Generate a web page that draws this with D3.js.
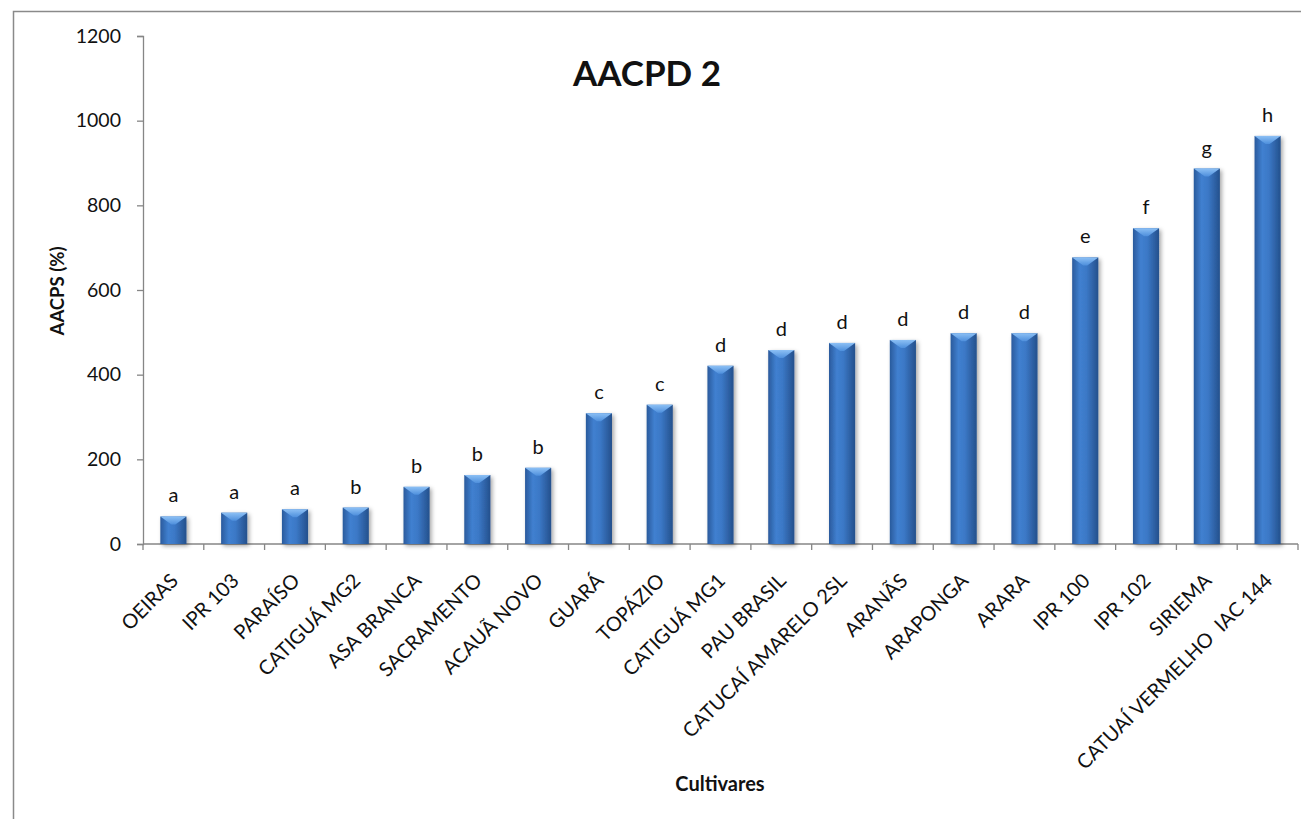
<!DOCTYPE html>
<html>
<head>
<meta charset="utf-8">
<script src="https://cdn.jsdelivr.net/npm/d3@7"></script>
<style>
  html, body { margin: 0; padding: 0; background: #fff; }
  svg { display: block; font-family: Lato, "Open Sans", sans-serif; }
</style>
</head>
<body>
<svg id="chart" width="1301" height="819"></svg>
<script>
// Cultivars and their AACPS values, with the letter groups printed over each bar
const cultivars = ["OEIRAS", "IPR 103", "PARAÍSO", "CATIGUÁ MG2", "ASA BRANCA", "SACRAMENTO",
  "ACAUÃ NOVO", "GUARÁ", "TOPÁZIO", "CATIGUÁ MG1", "PAU BRASIL", "CATUCAÍ AMARELO 2SL",
  "ARANÃS", "ARAPONGA", "ARARA", "IPR 100", "IPR 102", "SIRIEMA", "CATUAÍ VERMELHO  IAC 144"];
const aacps = [65, 74, 82, 86, 135, 163, 180, 309, 329, 421, 458, 475, 482, 498, 498, 677, 746, 887, 964];
const groups = ["a", "a", "a", "b", "b", "b", "b", "c", "c", "d", "d", "d", "d", "d", "d", "e", "f", "g", "h"];
const yTicks = [0, 200, 400, 600, 800, 1000, 1200];

const svg = d3.select("#chart");
const plot = { left: 143, right: 1298, top: 36, bottom: 544 };

// Outer frame of the chart area
svg.append("rect")
  .attr("x", 13.5).attr("y", 11.5)
  .attr("width", 1400).attr("height", 900)
  .attr("fill", "none").attr("stroke", "#8a8a8a").attr("stroke-width", 1.5);

const x = d3.scaleBand().domain(cultivars).range([plot.left, plot.right]).paddingInner(0.57).paddingOuter(0.285);
const xTickScale = d3.scaleBand().domain(cultivars).range([plot.left, plot.right]);
const y = d3.scaleLinear().domain([0, 1200]).range([plot.bottom, plot.top]);

const defs = svg.append("defs");
const body = defs.append("linearGradient").attr("id", "barBody").attr("x1", 0).attr("x2", 1).attr("y1", 0).attr("y2", 0);
body.append("stop").attr("offset", "0%").attr("stop-color", "#2a5a9c");
body.append("stop").attr("offset", "30%").attr("stop-color", "#4080d0");
body.append("stop").attr("offset", "55%").attr("stop-color", "#3b78c6");
body.append("stop").attr("offset", "100%").attr("stop-color", "#24508c");

const bevel = defs.append("linearGradient").attr("id", "barBevel").attr("x1", 0).attr("x2", 0).attr("y1", 0).attr("y2", 1);
bevel.append("stop").attr("offset", "0%").attr("stop-color", "#8cc0f5");
bevel.append("stop").attr("offset", "100%").attr("stop-color", "#4e8fdc");

const shadow = defs.append("filter").attr("id", "barShadow").attr("x", "-30%").attr("y", "-10%").attr("width", "170%").attr("height", "130%");
shadow.append("feDropShadow").attr("dx", 2).attr("dy", 2).attr("stdDeviation", 2)
  .attr("flood-color", "#000").attr("flood-opacity", 0.35);

// Axes
const yAxis = svg.append("g").attr("transform", `translate(${plot.left},0)`)
  .call(d3.axisLeft(y).tickValues(yTicks).tickSize(6).tickPadding(16).tickFormat(d3.format("d")));
yAxis.select(".domain").attr("stroke", "#868686").attr("stroke-width", 1.3);
yAxis.selectAll(".tick line").attr("stroke", "#868686").attr("stroke-width", 1.3);
yAxis.selectAll(".tick text").attr("font-size", 19.5).attr("fill", "#111").attr("font-family", "Lato, sans-serif");

const xAxis = svg.append("g").attr("transform", `translate(0,${plot.bottom})`);
xAxis.append("line").attr("x1", plot.left).attr("x2", plot.right).attr("y1", 0).attr("y2", 0)
  .attr("stroke", "#868686").attr("stroke-width", 1.3);
const tickPositions = cultivars.map(c => xTickScale(c)).concat([plot.right]);
xAxis.selectAll("line.tick").data(tickPositions).join("line").attr("class", "tick")
  .attr("x1", d => d).attr("x2", d => d).attr("y1", 0).attr("y2", 6)
  .attr("stroke", "#868686").attr("stroke-width", 1.3);

xAxis.selectAll("text.cat").data(cultivars).join("text").attr("class", "cat")
  .attr("transform", d => `translate(${x(d) + x.bandwidth() / 2 + 6},${38}) rotate(-45)`)
  .attr("text-anchor", "end")
  .attr("font-size", 20)
  .attr("fill", "#111")
  .style("white-space", "pre")
  .text(d => d);

// Bars
const bars = svg.append("g").selectAll("g.bar").data(cultivars).join("g").attr("class", "bar")
  .attr("filter", "url(#barShadow)");
bars.append("rect")
  .attr("x", d => x(d)).attr("y", (d, i) => y(aacps[i]))
  .attr("width", x.bandwidth()).attr("height", (d, i) => y(0) - y(aacps[i]))
  .attr("fill", "url(#barBody)");
bars.append("polygon")
  .attr("points", (d, i) => {
    const x0 = x(d), w = x.bandwidth(), t = y(aacps[i]);
    return [[x0, t], [x0 + w, t], [x0 + w / 2 + 2, t + 8], [x0 + w / 2 - 2, t + 8]].map(p => p.join(",")).join(" ");
  })
  .attr("fill", "url(#barBevel)");

// Letter groups above the bars
svg.append("g").selectAll("text").data(cultivars).join("text")
  .attr("x", d => x(d) + x.bandwidth() / 2)
  .attr("y", (d, i) => y(aacps[i]) - 14)
  .attr("text-anchor", "middle")
  .attr("font-size", 20)
  .attr("fill", "#111")
  .text((d, i) => groups[i]);

// Titles
svg.append("text").attr("x", 647).attr("y", 86).attr("text-anchor", "middle")
  .attr("font-size", 35).attr("font-weight", "bold").attr("fill", "#111").text("AACPD 2");
svg.append("text").attr("x", 720).attr("y", 791).attr("text-anchor", "middle")
  .attr("font-size", 20).attr("font-weight", "bold").attr("fill", "#111").text("Cultivares");
svg.append("text").attr("transform", "translate(64,291) rotate(-90)").attr("text-anchor", "middle")
  .attr("font-size", 18.5).attr("font-weight", "bold").attr("fill", "#111").text("AACPS (%)");
</script>
</body>
</html>
